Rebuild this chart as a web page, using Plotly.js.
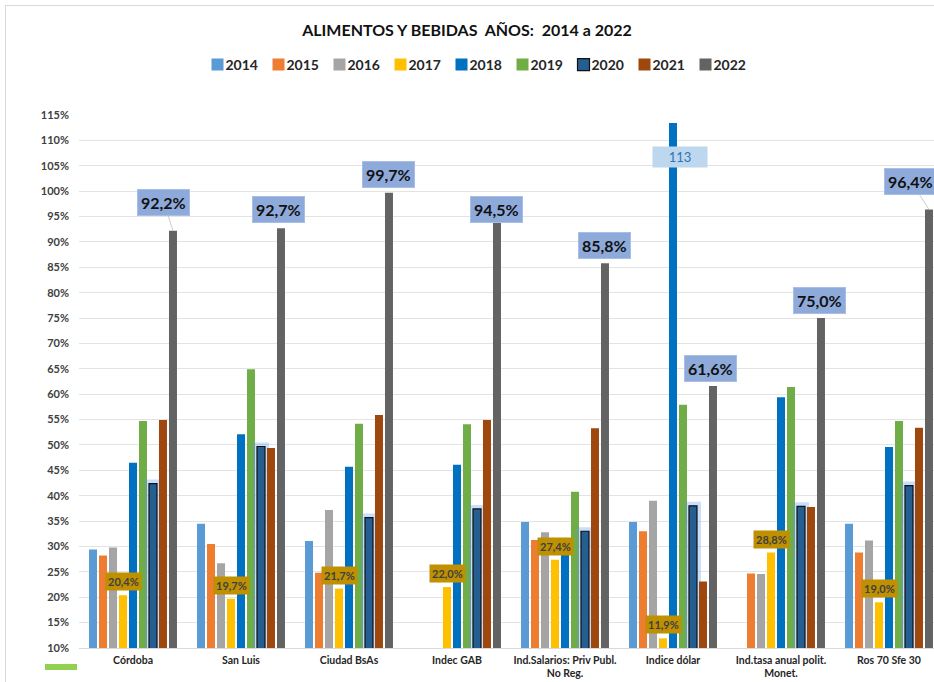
<!DOCTYPE html>
<html>
<head>
<meta charset="utf-8">
<script src="https://cdn.plot.ly/plotly-3.0.1.min.js"></script>
<style>
html,body{margin:0;padding:0;background:#fff;overflow:hidden;}
#chart{position:absolute;left:0;top:0;width:934px;height:682px;}
#frame{position:absolute;left:5px;top:5px;width:960px;height:700px;border-left:1.5px solid #d9d9d9;border-top:1.5px solid #d9d9d9;pointer-events:none;}
</style>
</head>
<body>
<div id="chart"></div>
<div id="frame"></div>
<script>
// ---- data ----
const categories = ['Córdoba', 'San Luis', 'Ciudad BsAs', 'Indec GAB',
  'Ind.Salarios: Priv Publ.<br>No Reg.', 'Indice dólar',
  'Ind.tasa anual polit.<br>Monet.', 'Ros 70 Sfe 30'];
const years = ['2014', '2015', '2016', '2017', '2018', '2019', '2020', '2021', '2022'];
const v2014 = [29.4, 34.5, 31.1, null, 34.8, 34.8, null, 34.5];
const v2015 = [28.2, 30.5, 24.8, null, 31.3, 33.0, 24.7, 28.8];
const v2016 = [29.8, 26.7, 37.2, null, 32.8, 39.0, 24.6, 31.2];
const v2017 = [20.4, 19.7, 21.7, 22.0, 27.4, 11.9, 28.8, 19.0];
const v2018 = [46.5, 52.1, 45.7, 46.1, 30.0, 113.4, 59.4, 49.6];
const v2019 = [54.7, 64.9, 54.2, 54.1, 40.8, 57.9, 61.4, 54.7];
const v2020 = [42.4, 49.7, 35.7, 37.4, 33.0, 38.0, 37.9, 42.0];
const v2021 = [54.9, 49.4, 55.9, 54.9, 53.3, 23.1, 37.8, 53.4];
const v2022 = [92.2, 92.7, 99.7, 94.5, 85.8, 61.6, 75.0, 96.4];
const yTicks = [10, 15, 20, 25, 30, 35, 40, 45, 50, 55, 60, 65, 70, 75, 80, 85, 90, 95, 100, 105, 110, 115];
const yTickText = yTicks.map(v => v + '%');

// ---- styles ----
const series = [v2014, v2015, v2016, v2017, v2018, v2019, v2020, v2021, v2022];
const colors = ['#5B9BD5', '#ED7D31', '#A5A5A5', '#FFC000', '#0070C0', '#70AD47', '#255E91', '#9E480E', '#636363'];
const FONT = 'Lato, "Liberation Sans", sans-serif';
const W = 934, H = 682;
const M = {l: 79, r: 0, t: 115, b: 34};
const BARGAP = 0.167;
const idx = categories.map((c, i) => i);
// offset (in category units) of the k-th bar inside its group
const off = k => (k - 4) * (1 - BARGAP) / years.length;
const fmt = v => v.toFixed(1).replace('.', ',') + '%';

const traces = [];
years.forEach((yr, k) => {
  if (yr === '2020') {
    // soft halo drawn behind the 2020 bars
    traces.push({
      type: 'bar', x: idx, y: series[k], offsetgroup: yr, showlegend: false, hoverinfo: 'skip',
      marker: {color: 'rgba(90,150,240,0.32)', line: {color: 'rgba(90,150,240,0.32)', width: 8}}
    });
  }
  traces.push({
    type: 'bar', name: yr, x: idx, y: series[k], offsetgroup: yr,
    marker: {color: colors[k], line: yr === '2020' ? {color: '#111', width: 1.2} : {width: 0}}
  });
});

const annotations = [];
// 2022 labels
const lab22Shift = [[-9, -28], [-2, -19], [0, -18], [0, -10], [0, -18], [-2, -18], [-1, -18], [-18, -28]];
v2022.forEach((v, i) => {
  const line = (i === 0 || i === 7);
  annotations.push({
    x: i + off(8), y: v, xref: 'x', yref: 'y', text: fmt(v),
    showarrow: true, arrowhead: 0, arrowwidth: 0.8,
    arrowcolor: line ? '#BFBFBF' : 'rgba(0,0,0,0)',
    ax: lab22Shift[i][0], ay: lab22Shift[i][1],
    bgcolor: '#8EAADB', bordercolor: '#A9BEE4', borderwidth: 1, borderpad: 3,
    font: {family: FONT, size: 16, color: '#111', weight: 'bold'}
  });
});
// 2017 labels
v2017.forEach((v, i) => {
  annotations.push({
    x: i + off(3), y: v, xref: 'x', yref: 'y', text: fmt(v),
    showarrow: false, yshift: 13.5,
    bgcolor: '#BF9000', borderpad: 2,
    font: {family: FONT, size: 11, color: '#404040', weight: 'bold'}
  });
});
// 2018 outlier label (Indice dólar)
annotations.push({
  x: 5 + off(4), y: v2018[5], xref: 'x', yref: 'y', text: Math.round(v2018[5]).toString(),
  showarrow: false, xshift: 7, yshift: -34, width: 52, height: 18,
  bgcolor: '#BDD7EE', borderpad: 1,
  font: {family: FONT, size: 13, color: '#2E75B6'}
});

const pw = W - M.l - M.r, ph = H - M.t - M.b;
const shapes = [{
  type: 'rect', xref: 'paper', yref: 'paper', line: {width: 0}, fillcolor: '#92D050',
  x0: (45 - M.l) / pw, x1: (77 - M.l) / pw,
  y0: (H - M.b - 670) / ph, y1: (H - M.b - 664) / ph
}];

const layout = {
  width: W, height: H, margin: M,
  paper_bgcolor: '#fff', plot_bgcolor: '#fff',
  barmode: 'group', bargap: BARGAP, bargroupgap: 0.2,
  title: {
    text: 'ALIMENTOS Y BEBIDAS  AÑOS:  2014 a 2022',
    x: 0.5, xref: 'container', y: 1 - 30 / H, yref: 'container', yanchor: 'middle',
    font: {family: FONT, size: 16, color: '#111', weight: 'bold'}
  },
  legend: {
    orientation: 'h', xref: 'container', yref: 'container',
    x: 472 / W, xanchor: 'center', y: 1 - 65 / H, yanchor: 'middle',
    font: {family: FONT, size: 14, color: '#262626', weight: 'bold'},
    itemwidth: 30, traceorder: 'normal', entrywidth: 16, entrywidthmode: 'pixels'
  },
  xaxis: {
    type: 'linear', range: [-0.5, -0.5 + pw / 108], tickvals: idx, ticktext: categories,
    showgrid: false, zeroline: false, showline: true, linecolor: '#D9D9D9', linewidth: 1,
    ticks: '', ticklabelstandoff: 2,
    tickfont: {family: FONT, size: 10.5, color: '#262626', weight: 'bold'}
  },
  yaxis: {
    range: [10, 115], tickvals: yTicks, ticktext: yTickText,
    showgrid: true, gridcolor: '#E3E3E3', gridwidth: 1, zeroline: false, showline: false,
    ticks: '', ticklabelstandoff: 9,
    tickfont: {family: FONT, size: 11, color: '#404040', weight: 'bold'}
  },
  annotations: annotations,
  shapes: shapes,
  hovermode: false
};

// compact legend entries: smaller swatches, text closer to its swatch
function compactLegend(gd) {
  gd.querySelectorAll('.legend path.legendbar').forEach(p => p.setAttribute('d', 'M3.5,4.5H-3.5V-4.5H3.5Z'));
  gd.querySelectorAll('.legend text.legendtext').forEach(t => {
    const x = parseFloat(t.getAttribute('x') || '0');
    t.setAttribute('x', x - 12);
    t.querySelectorAll('tspan[x]').forEach(s => s.setAttribute('x', parseFloat(s.getAttribute('x')) - 12));
  });
}

Plotly.newPlot('chart', traces, layout, {displayModeBar: false, staticPlot: true})
  .then(gd => compactLegend(gd));
</script>
</body>
</html>
